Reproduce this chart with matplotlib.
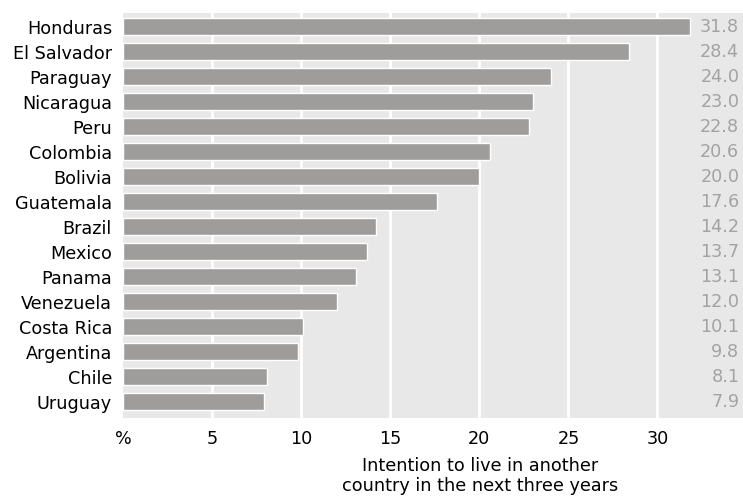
import numpy as np
import matplotlib.pyplot as plt

countries = ["Honduras", "El Salvador", "Paraguay", "Nicaragua", "Peru", "Colombia",
             "Bolivia", "Guatemala", "Brazil", "Mexico", "Panama", "Venezuela",
             "Costa Rica", "Argentina", "Chile", "Uruguay"]
values = [31.8, 28.4, 24.0, 23.0, 22.8, 20.6, 20.0, 17.6, 14.2, 13.7, 13.1, 12.0,
          10.1, 9.8, 8.1, 7.9]
xticks = [0, 5, 10, 15, 20, 25, 30]
xtick_labels = ["%", "5", "10", "15", "20", "25", "30"]

FS = 12.7

fig = plt.figure(figsize=(7.43, 4.97), dpi=100)
W, H = 743, 497
ax = fig.add_axes([123 / W, 1 - 418 / H, (743 - 123) / W, (418 - 12.7) / H])

ax.set_facecolor("#e8e8e8")
y = np.arange(len(countries))
ax.barh(y, values, height=0.68, color="#9e9d9b", edgecolor="white", linewidth=1, zorder=3)

for v in xticks[1:]:
    ax.axvline(v, color="white", linewidth=2, zorder=1)

# value labels in the right margin
for yi, v in zip(y, values):
    ax.text(0.994, yi, f"{v:.1f}", transform=ax.get_yaxis_transform(), ha="right",
            va="center", color="#a3a3a3", fontsize=FS)

ax.set_xlim(0, 34.8)
ax.set_ylim(len(countries) - 0.36, -0.57)
ax.set_yticks(y)
ax.set_yticklabels(countries, fontsize=FS)
ax.set_xticks(xticks)
ax.set_xticklabels(xtick_labels, fontsize=FS)
ax.tick_params(axis="y", length=0, pad=8)
ax.tick_params(axis="x", length=0, pad=9)
for s in ax.spines.values():
    s.set_visible(False)

fig.text(480 / W, 1 - 476 / H, "Intention to live in another\ncountry in the next three years",
         ha="center", va="center", fontsize=FS, linespacing=1.1)

fig.savefig("out.png", dpi=100)
